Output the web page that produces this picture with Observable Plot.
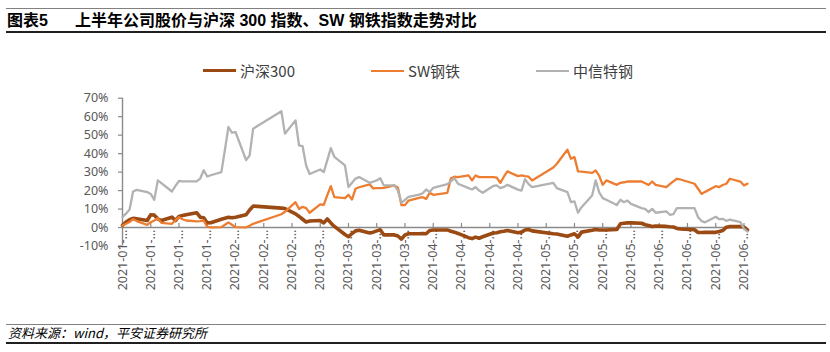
<!DOCTYPE html>
<html><head><meta charset="utf-8">
<script src="https://cdn.jsdelivr.net/npm/d3@7"></script>
<script src="https://cdn.jsdelivr.net/npm/@observablehq/plot@0.6"></script>
<style>
body{margin:0;background:#fff;}
#wrap{position:relative;width:830px;height:352px;overflow:hidden;font-family:"Liberation Sans","Noto Sans CJK SC",sans-serif;}
.abs{position:absolute;}
.title{font-size:16px;font-weight:bold;line-height:16px;top:13px;color:#000;white-space:nowrap;}
.leg{top:63px;font-size:15px;line-height:15px;color:#404040;font-family:"Noto Sans CJK SC",sans-serif;white-space:nowrap;}
.seg{height:0;}
#chart{left:0;top:88px;}
</style></head><body>
<div id="wrap">
  <div class="abs" style="left:6px;top:8px;width:820px;height:1px;background:#808080"></div>
  <div class="abs title" style="left:7px">图表5</div>
  <div class="abs title" style="left:75px">上半年公司股价与沪深 300 指数、SW 钢铁指数走势对比</div>
  <div class="abs" style="left:6px;top:31px;width:820px;height:1.5px;background:#202020"></div>
  <div id="legend"></div>
  <div id="chart" class="abs"></div>
  <div class="abs" style="left:6px;top:324px;width:820px;height:1px;background:#808080"></div>
  <div class="abs" style="left:8px;top:326px;font-size:13px;line-height:14px;font-style:italic;color:#000;font-family:'Noto Sans CJK SC',sans-serif;white-space:nowrap">资料来源：wind，平安证券研究所</div>
  <div class="abs" style="left:6px;top:342px;width:820px;height:1.5px;background:#202020"></div>
</div>
<script>
// Trading days (day-of-month per month)
const tradeDays = [
  ["2021-01", [4,5,6,7,8,11,12,13,14,15,18,19,20,21,22,25,26,27,28,29]],
  ["2021-02", [1,2,3,4,5,8,9,10,18,19,22,23,24,25,26]],
  ["2021-03", [1,2,3,4,5,8,9,10,11,12,15,16,17,18,19,22,23,24,25,26,29,30,31]],
  ["2021-04", [1,2,6,7,8,9,12,13,14,15,16,19,20,21,22,23,26,27,28,29,30]],
  ["2021-05", [6,7,10,11,12,13,14,17,18,19,20,21,24,25,26,27,28,31]],
  ["2021-06", [1,2,3,4,7,8,9,10,11,15,16,17,18,21,22,23,24,25,28,29,30]]
];
// 沪深300 cumulative return (%)
const hs300 = [
  1.2,3,4.2,5,4.7,3.8,6.9,6.7,4.7,3.8,5.6,3.8,6,6.5,6.9,8,5.6,5.3,2.5,2.6,
  4.5,5,5.5,5.3,5.6,6.9,9.5,11.6,10.5,10.3,7.4,6,4.5,3,3.5,
  3.8,2.5,4.6,2.5,0.6,-3.8,-5,-3.2,-1.8,-1.5,-3,-2.5,-1.8,-1.2,-4,-4,-4.6,-6.3,-4,-3.4,-3.4,-3.3,-3.4,
  -1.6,-1.3,-1.3,-2,-2.5,-3.2,-5.5,-6,-5.2,-5.8,-5,-3,-2.8,-2.3,-2,-1.6,-2.8,-2.5,-1.3,-1.1,-1.8,
  -3.4,-3.5,-4.7,-4,-3.4,-5.2,-2.5,-1.5,-1.1,-1.3,-1.3,-1.3,-1.1,2,2.3,2.5,2.5,2.3,
  1.5,1.1,0.6,0.8,0.6,0.4,0.3,-0.5,-0.8,-1.2,-2.7,-2.7,-2.6,-2.6,-2.2,-1.6,0.2,0.5,0.5,0.2,-1.3
];
// SW钢铁 cumulative return (%)
const swSteel = [
  1.1,2,3,4.5,3.5,1.4,2.9,3.8,5,2.5,2,4,5.6,4.5,3.8,3.3,3.5,3.8,0.3,0.1,
  0.2,1.5,2.7,1.5,0.2,0.1,1,2,7.2,8.5,13.7,10,11.2,10.5,8,
  12.5,12.3,17.5,22.4,16.4,15.9,17.7,15.2,21,21.8,23.3,21.2,21.3,21.3,21.5,22.8,21.5,12.1,12.1,14.6,16,16.4,15.5,
  18.8,17.7,18.8,26.7,27.5,27.3,28.2,25.5,28.2,27.3,27.3,27.3,27,24.2,27.5,30.4,27.8,28.2,27.8,27.5,25.5,
  32.5,34.5,42.1,37.2,38.1,30.4,30.3,29.6,30.9,28,23.1,25.5,23.1,24.2,24.5,24.9,24.9,24.9,
  24,23.1,24.9,23.1,21.9,23.5,25,26.4,26,23.7,21,18.2,19.3,22.4,21.9,23,23.7,26.4,24.9,22.8,23.7
];
// 中信特钢 cumulative return (%)
const citicSteel = [
  5.6,7.5,9.8,19.5,20.4,19.2,18.2,15,25.5,24,19.5,22.5,25.2,25,25,25,26.5,31,27.6,28.3,
  30,42,54.4,51.3,51.7,36.5,39,53.5,62.9,50.8,58,44.4,44,33.6,29,
  31.4,30,36.5,43,38.3,33.6,21.9,24.2,26.5,27.3,24.2,24.8,25.5,26.7,22.8,22.8,20,13.4,15,16.6,17.8,18.5,20.6,
  19.2,21.5,23.5,25,26.7,23.7,21.3,20.6,21.9,20,18.8,22.5,22.8,21.3,22,23.1,20.5,20,26.2,23.5,21.9,
  24.2,21.3,19.2,13.7,14.1,8,11,17.3,25.5,19,15.9,15,12.2,15,13.7,14.6,12.8,10.5,
  10.1,8.3,10.1,8,8.7,6.9,7.2,10.5,10.5,10.5,5.6,3.5,2.8,5.8,4.5,4.7,3.6,4.3,2.9,-0.7,-2.2
];
const seriesNames = ["沪深300", "SW钢铁", "中信特钢"];
const seriesColors = ["#9a4a12", "#ed7d31", "#b2b2b2"];
const seriesWidths = [3.6, 2.3, 2.3];
const xTickDates = ["2021-01-04","2021-01-12","2021-01-20","2021-01-28","2021-02-05","2021-02-13","2021-02-21",
  "2021-03-01","2021-03-09","2021-03-17","2021-03-25","2021-04-02","2021-04-10","2021-04-18","2021-04-26",
  "2021-05-04","2021-05-12","2021-05-20","2021-05-28","2021-06-05","2021-06-13","2021-06-21","2021-06-29"];
const yTicks = [-10, 0, 10, 20, 30, 40, 50, 60, 70];
const xStart = "2021-01-04", xEnd = "2021-06-30";

const parse = d3.utcParse("%Y-%m-%d");
const dates = tradeDays.flatMap(([m, days]) => days.map(d => parse(`${m}-${String(d).padStart(2, "0")}`)));
const seriesValues = [hs300, swSteel, citicSteel];
const tables = seriesValues.map(vals => dates.map((date, i) => ({date, value: vals[i]})));
const ticks = xTickDates.map(parse);
const x0 = parse(xStart);
const axisColor = "#8a8a8a";

// legend
const legend = document.getElementById("legend");
const legendX = [203, 371, 536];
seriesNames.forEach((name, i) => {
  const seg = document.createElement("div");
  seg.className = "abs";
  seg.style.cssText = `left:${legendX[i]}px;top:${70.7 - seriesWidths[i] / 2}px;width:33px;height:${seriesWidths[i]}px;background:${seriesColors[i]}`;
  legend.appendChild(seg);
  const t = document.createElement("div");
  t.className = "abs leg";
  t.style.left = (legendX[i] + 37) + "px";
  t.textContent = name;
  legend.appendChild(t);
});

const chart = Plot.plot({
  width: 830, height: 230,
  marginLeft: 122, marginRight: 83, marginTop: 9.7, marginBottom: 72.5,
  x: {type: "utc", domain: [x0, parse(xEnd)], axis: null},
  y: {domain: [-10, 70], axis: null},
  style: {background: "transparent", overflow: "visible"},
  marks: [
    Plot.ruleY([0], {stroke: axisColor, strokeWidth: 1.4}),
    Plot.ruleX([x0], {y1: -10, y2: 70, stroke: axisColor, strokeWidth: 1.4}),
    Plot.ruleY(yTicks, {y: d => d, x1: x0, x2: x0, insetLeft: -4, stroke: axisColor, strokeWidth: 1.2}),
    Plot.text(yTicks, {x: x0, y: d => d, text: d => `${d}%`, textAnchor: "end", dx: -14,
      fill: "#595959", fontSize: 12.5, fontFamily: "Noto Sans"}),
    Plot.ruleX(ticks, {x: d => d, y1: 0, y2: 0, insetTop: -4, stroke: axisColor, strokeWidth: 1.2}),
    Plot.text(ticks, {x: d => d, y: 0, text: d => d3.utcFormat("%Y-%m-")(d) + "…", rotate: -90,
      textAnchor: "end", dy: 2, fill: "#595959", fontSize: 12.5, fontFamily: "Noto Sans"}),
    ...tables.map((t, i) => Plot.line(t, {x: "date", y: "value", stroke: seriesColors[i],
      strokeWidth: seriesWidths[i], strokeLinejoin: "round", strokeLinecap: "round"}))
  ]
});
document.getElementById("chart").appendChild(chart);
</script>
</body></html>
